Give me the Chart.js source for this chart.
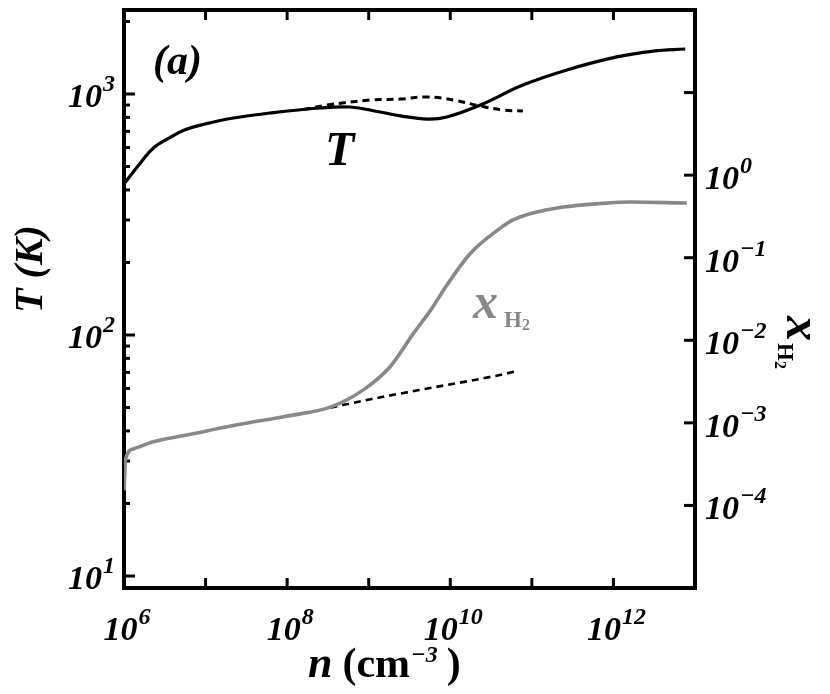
<!DOCTYPE html>
<html>
<head>
<meta charset="utf-8">
<script src="https://cdn.jsdelivr.net/npm/chart.js@4.4.1/dist/chart.umd.min.js"></script>
<style>
    html, body { margin: 0; padding: 0; background: #fff; }
</style>
</head>
<body>
<canvas id="chart" width="830" height="694"></canvas>
<script>
// temperature T (K) against density n (cm^-3)
const densityT = [1.0e6, 1.58e6, 2.29e6, 3.42e6, 5.5e6, 9.9e6, 2.0e7, 6.17e7, 2.51e8, 5.89e8, 1.38e9, 2.45e9, 5.25e9, 9.1e9, 2.34e10, 7.76e10, 2.69e11, 1.1e12, 3.09e12, 7.59e12];
const tempSolid = [424, 516, 597, 651, 709, 751, 791, 834, 875, 883, 842, 811, 787, 803, 900, 1089, 1258, 1425, 1507, 1537];

const densityTDash = [1.58e8, 3.09e8, 1.05e9, 2.45e9, 5.25e9, 1.1e10, 2.34e10, 4.47e10, 7.76e10];
const tempDash = [861, 900, 944, 953, 972, 944, 891, 858, 850];

// H2 fraction against density
const densityH2 = [1.0e6, 1.05e6, 1.32e6, 2.29e6, 6.03e6, 2.45e7, 1.0e8, 3.39e8, 8.5e8, 1.82e9, 3.55e9, 5.75e9, 9.1e9, 1.78e10, 3.8e10, 5.89e10, 9.8e10, 2.43e11, 6.9e11, 1.62e12, 7.94e12];
const fracH2 = [1.52e-4, 3.68e-4, 4.86e-4, 5.9e-4, 7.16e-4, 9.46e-4, 1.21e-3, 1.55e-3, 2.49e-3, 4.74e-3, 1.22e-2, 2.32e-2, 4.67e-2, 0.114, 0.216, 0.287, 0.343, 0.411, 0.453, 0.473, 0.46];

const densityH2Dash = [3.39e8, 1.05e9, 3.98e9, 3.8e10, 6.6e10];
const fracH2Dash = [1.53e-3, 1.93e-3, 2.48e-3, 3.75e-3, 4.24e-3];

// ticks
const densityTicks = [1e6, 1e7, 1e8, 1e9, 1e10, 1e11, 1e12];
const densityLabels = [[1e6, "6"], [1e8, "8"], [1e10, "10"], [1e12, "12"]];
const tempTicks = [10, 100, 1000];
const tempLabels = [[10, "1"], [100, "2"], [1000, "3"]];
const fracTicks = [1e-5, 1e-4, 1e-3, 1e-2, 1e-1, 1, 10];
const fracLabels = [[1, "0"], [1e-1, "\u22121"], [1e-2, "\u22122"], [1e-3, "\u22123"], [1e-4, "\u22124"]];

const GRAY = "#888888";

function pickSerif() {
    const c = document.createElement("canvas").getContext("2d");
    const probe = "10 xT(cm)H";
    const names = ["Liberation Serif", "Times New Roman", "Tinos", "Nimbus Roman", "FreeSerif", "Noto Serif", "Times"];
    c.font = "bold 40px monospace";
    const base = c.measureText(probe).width;
    for (const name of names) {
        c.font = `bold 40px "${name}", monospace`;
        if (Math.abs(c.measureText(probe).width - base) > 0.5) {
            return `"${name}", serif`;
        }
    }
    return "\"DejaVu Serif\", serif";
}

const SERIF = pickSerif();

function toPoints(xs, ys) {
    return xs.map((x, i) => ({ x: x, y: ys[i] }));
}

function drawPower(ctx, exp, x, y, align) {
    ctx.font = `italic bold 34px ${SERIF}`;
    const wBase = ctx.measureText("10").width;
    ctx.font = `italic bold 24px ${SERIF}`;
    const wExp = ctx.measureText(exp).width;
    const total = wBase + wExp + 1;
    let left = x;
    if (align === "right") left = x - total;
    if (align === "center") left = x - total / 2;
    ctx.textAlign = "left";
    ctx.textBaseline = "alphabetic";
    ctx.font = `italic bold 34px ${SERIF}`;
    ctx.fillText("10", left, y);
    ctx.font = `italic bold 24px ${SERIF}`;
    ctx.fillText(exp, left + wBase + 1, y - 16);
}

function line(ctx, x1, y1, x2, y2) {
    ctx.beginPath();
    ctx.moveTo(x1, y1);
    ctx.lineTo(x2, y2);
    ctx.stroke();
}

// draws runs of [text, font, dy, gap] one after another from x
function drawRuns(ctx, runs, x, y) {
    let cx = x;
    runs.forEach(([text, font, dy, gap]) => {
        ctx.font = font;
        cx += gap || 0;
        ctx.fillText(text, cx, y + (dy || 0));
        cx += ctx.measureText(text).width;
    });
}

const framePlugin = {
    id: "frame",
    beforeDatasetsDraw(chart) {
        const ctx = chart.ctx;
        const area = chart.chartArea;
        const xs = chart.scales.x;
        const ys = chart.scales.y;
        const y2 = chart.scales.y2;

        ctx.save();
        ctx.strokeStyle = "#000";
        ctx.lineWidth = 3;
        densityTicks.forEach((v) => {
            const px = xs.getPixelForValue(v);
            if (px < area.left + 3) return;
            line(ctx, px, area.bottom, px, area.bottom - 10);
            line(ctx, px, area.top, px, area.top + 10);
        });
        tempTicks.forEach((v) => {
            const py = ys.getPixelForValue(v);
            line(ctx, area.left, py, area.left + 11, py);
            for (let k = 2; k <= 9; k++) {
                const pm = ys.getPixelForValue(v * k);
                if (pm < area.top + 3 || pm > area.bottom - 3) continue;
                line(ctx, area.left, pm, area.left + 6, pm);
            }
        });
        fracTicks.forEach((v) => {
            const py = y2.getPixelForValue(v);
            line(ctx, area.right, py, area.right - 11, py);
        });

        ctx.lineWidth = 4;
        ctx.strokeRect(area.left, area.top, area.right - area.left, area.bottom - area.top);
        ctx.restore();
    },
    afterDraw(chart) {
        const ctx = chart.ctx;
        const area = chart.chartArea;
        const xs = chart.scales.x;
        const ys = chart.scales.y;
        const y2 = chart.scales.y2;

        ctx.save();
        ctx.fillStyle = "#000";

        // tick labels
        densityLabels.forEach(([v, e]) => drawPower(ctx, e, xs.getPixelForValue(v) + 3, area.bottom + 52, "center"));
        tempLabels.forEach(([v, e]) => drawPower(ctx, e, area.left - 9, ys.getPixelForValue(v) + 13, "right"));
        fracLabels.forEach(([v, e]) => drawPower(ctx, e, area.right + 10, y2.getPixelForValue(v) + 14, "left"));

        // axis titles
        ctx.textAlign = "left";
        ctx.textBaseline = "alphabetic";
        drawRuns(ctx, [
            ["n", `italic bold 44px ${SERIF}`, 0, 0],
            ["(cm", `bold 42px ${SERIF}`, 0, 10],
            ["\u22123", `italic bold 24px ${SERIF}`, -15, 1],
            [")", `bold 42px ${SERIF}`, 0, 9],
        ], 308, 677);

        ctx.save();
        ctx.translate(42, 269);
        ctx.rotate(-Math.PI / 2);
        ctx.textAlign = "center";
        ctx.font = `italic bold 40px ${SERIF}`;
        ctx.fillText("T (K)", 0, 0);
        ctx.restore();

        ctx.save();
        ctx.translate(787, 316);
        ctx.rotate(Math.PI / 2);
        ctx.textAlign = "left";
        drawRuns(ctx, [
            ["x", `italic bold 50px ${SERIF}`, 0, 0],
            ["H", `bold 23px ${SERIF}`, 9, 2],
            ["2", `bold 16px ${SERIF}`, 12, 0],
        ], 0, 0);
        ctx.restore();

        // in-plot labels
        ctx.font = `italic bold 42px ${SERIF}`;
        ctx.fillText("(a)", 153, 74);
        ctx.font = `italic bold 48px ${SERIF}`;
        ctx.fillText("T", 325, 165);

        ctx.fillStyle = GRAY;
        drawRuns(ctx, [
            ["x", `italic bold 50px ${SERIF}`, 0, 0],
            ["H", `bold 23px ${SERIF}`, 9, 6],
            ["2", `bold 16px ${SERIF}`, 12, 0],
        ], 473, 318);

        ctx.restore();
    },
};

new Chart(document.getElementById("chart"), {
    type: "line",
    data: {
        datasets: [
            {
                data: toPoints(densityT, tempSolid),
                yAxisID: "y",
                borderColor: "#000",
                borderWidth: 3.2,
                tension: 0.4,
            },
            {
                data: toPoints(densityH2, fracH2),
                yAxisID: "y2",
                borderColor: GRAY,
                borderWidth: 3.6,
                cubicInterpolationMode: "monotone",
            },
            {
                data: toPoints(densityTDash, tempDash),
                yAxisID: "y",
                borderColor: "#000",
                borderWidth: 3,
                borderDash: [7, 5],
                tension: 0.4,
            },
            {
                data: toPoints(densityH2Dash, fracH2Dash),
                yAxisID: "y2",
                borderColor: "#000",
                borderWidth: 2.6,
                borderDash: [7, 5],
                cubicInterpolationMode: "monotone",
            },
        ],
    },
    options: {
        responsive: false,
        animation: false,
        devicePixelRatio: 1,
        events: [],
        layout: { padding: { left: 124, right: 135, top: 10, bottom: 106 } },
        elements: { point: { radius: 0 } },
        plugins: { legend: { display: false }, tooltip: { enabled: false } },
        scales: {
            x: { type: "logarithmic", min: 1e6, max: 1e13, display: false },
            y: { type: "logarithmic", position: "left", min: 8.92, max: 2231, display: false },
            y2: { type: "logarithmic", position: "right", min: 1e-5, max: 1e2, display: false },
        },
    },
    plugins: [framePlugin],
});
</script>
</body>
</html>
